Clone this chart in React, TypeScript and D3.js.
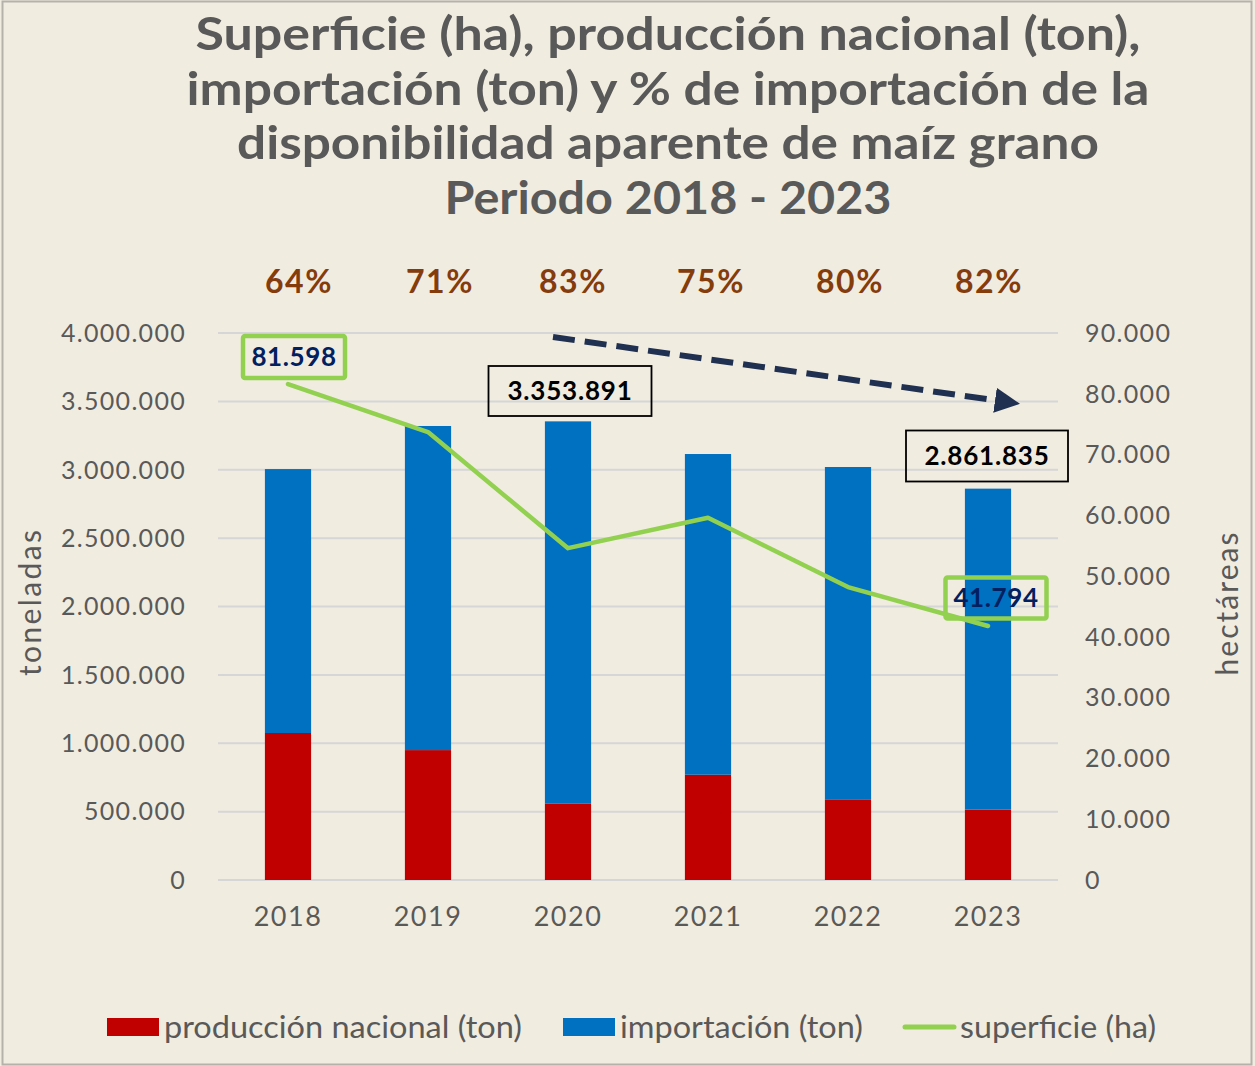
import React, { useEffect, useRef } from "react";
import * as d3 from "d3";

const years = ["2018", "2019", "2020", "2021", "2022", "2023"];
const produccion = [1075000, 950000, 560000, 770000, 590000, 515000];
const importacion = [1930000, 2370000, 2793891, 2345000, 2430000, 2346835];
const superficie = [81598, 73700, 54600, 59600, 48200, 41794];
const pctImport = ["64%", "71%", "83%", "75%", "80%", "82%"];
const leftTicks = [0, 500000, 1000000, 1500000, 2000000, 2500000, 3000000, 3500000, 4000000];
const rightTicks = [0, 10000, 20000, 30000, 40000, 50000, 60000, 70000, 80000, 90000];
const titleLines = [
  "Superficie (ha), producción nacional (ton),",
  "importación (ton) y % de importación de la",
  "disponibilidad aparente de maíz grano",
  "Periodo 2018 - 2023",
];

const W = 1255;
const H = 1066;
const FONT = "Lato, 'Open Sans', sans-serif";
const GRAY = "#595959";

const fmt = (v: number) => d3.format(",")(v).replace(/,/g, ".");

export default function App() {
  const ref = useRef<SVGSVGElement | null>(null);

  useEffect(() => {
    const svg = d3.select(ref.current);
    svg.selectAll("*").remove();

    const margin = { top: 333, right: 197, bottom: 186, left: 218 };
    const width = W - margin.left - margin.right;
    const height = H - margin.top - margin.bottom;

    // background paper + frame
    svg.append("rect").attr("width", W).attr("height", H).attr("fill", "#f1ece0");
    svg
      .append("rect")
      .attr("x", 2.5)
      .attr("y", 1.5)
      .attr("width", W - 6)
      .attr("height", H - 3)
      .attr("fill", "none")
      .attr("stroke", "#b5b2ac")
      .attr("stroke-width", 2);

    // title (widths fitted to the original's wider face)
    const titleWidths = [945, 963, 862, 447];
    svg
      .append("g")
      .selectAll("text")
      .data(titleLines)
      .enter()
      .append("text")
      .attr("x", 668)
      .attr("y", (d, i) => 50 + i * 54.5)
      .attr("text-anchor", "middle")
      .attr("textLength", (d, i) => titleWidths[i])
      .attr("lengthAdjust", "spacingAndGlyphs")
      .attr("fill", GRAY)
      .style("font-family", FONT)
      .style("font-weight", "bold")
      .style("font-size", "45px")
      .text((d) => d);

    const x = d3.scaleBand().domain(years).range([0, width]).paddingInner(0.67).paddingOuter(0.335);
    const y = d3.scaleLinear().domain([0, 4000000]).range([height, 0]);
    const y2 = d3.scaleLinear().domain([0, 90000]).range([height, 0]);

    const g = svg.append("g").attr("transform", `translate(${margin.left},${margin.top})`);

    // gridlines
    g.selectAll(".grid")
      .data(leftTicks)
      .enter()
      .append("line")
      .attr("x1", 0)
      .attr("x2", width)
      .attr("y1", (d) => y(d))
      .attr("y2", (d) => y(d))
      .attr("stroke", "#d6d6d8")
      .attr("stroke-width", 2);

    // left axis labels
    g.selectAll(".ly")
      .data(leftTicks)
      .enter()
      .append("text")
      .attr("x", -32)
      .attr("y", (d) => y(d))
      .attr("dy", "0.35em")
      .attr("text-anchor", "end")
      .attr("fill", GRAY)
      .style("font-family", FONT)
      .style("font-size", "25px")
      .style("letter-spacing", "1.3px")
      .text((d) => fmt(d));

    // right axis labels
    g.selectAll(".ry")
      .data(rightTicks)
      .enter()
      .append("text")
      .attr("x", width + 27)
      .attr("y", (d) => y2(d))
      .attr("dy", "0.35em")
      .attr("text-anchor", "start")
      .attr("fill", GRAY)
      .style("font-family", FONT)
      .style("font-size", "25px")
      .style("letter-spacing", "1.3px")
      .text((d) => fmt(d));

    // x labels
    g.selectAll(".xl")
      .data(years)
      .enter()
      .append("text")
      .attr("x", (d) => x(d)! + x.bandwidth() / 2)
      .attr("y", height + 46)
      .attr("text-anchor", "middle")
      .attr("fill", GRAY)
      .style("font-family", FONT)
      .style("font-size", "27px")
      .style("letter-spacing", "1.5px")
      .text((d) => d);

    // axis titles
    svg
      .append("text")
      .attr("transform", `translate(41,${603}) rotate(-90)`)
      .attr("text-anchor", "middle")
      .attr("textLength", 146)
      .attr("fill", GRAY)
      .style("font-family", FONT)
      .style("font-size", "30px")
      .text("toneladas");
    svg
      .append("text")
      .attr("transform", `translate(1238,${604}) rotate(-90)`)
      .attr("text-anchor", "middle")
      .attr("textLength", 143)
      .attr("fill", GRAY)
      .style("font-family", FONT)
      .style("font-size", "30px")
      .text("hectáreas");

    // stacked bars
    const rows = years.map((yr, i) => ({ yr, prod: produccion[i], imp: importacion[i] }));
    g.selectAll(".bp")
      .data(rows)
      .enter()
      .append("rect")
      .attr("x", (d) => x(d.yr)!)
      .attr("width", x.bandwidth())
      .attr("y", (d) => y(d.prod))
      .attr("height", (d) => height - y(d.prod))
      .attr("fill", "#c00000");
    g.selectAll(".bi")
      .data(rows)
      .enter()
      .append("rect")
      .attr("x", (d) => x(d.yr)!)
      .attr("width", x.bandwidth())
      .attr("y", (d) => y(d.prod + d.imp))
      .attr("height", (d) => y(d.prod) - y(d.prod + d.imp))
      .attr("fill", "#0070c0");

    // superficie line
    const line = d3
      .line<number>()
      .x((d, i) => x(years[i])! + x.bandwidth() / 2)
      .y((d) => y2(d));
    g.append("path")
      .datum(superficie)
      .attr("d", line)
      .attr("fill", "none")
      .attr("stroke", "#92d050")
      .attr("stroke-width", 4.5)
      .attr("stroke-linecap", "round")
      .attr("stroke-linejoin", "round");

    // percentages (text boxes sit a little right of the bar centres)
    const pctShift = [11, 12, 5, 3, 2, 1];
    g.selectAll(".pct")
      .data(pctImport)
      .enter()
      .append("text")
      .attr("x", (d, i) => x(years[i])! + x.bandwidth() / 2 + pctShift[i])
      .attr("y", -40)
      .attr("text-anchor", "middle")
      .attr("fill", "#843c0c")
      .style("font-family", FONT)
      .style("font-weight", "bold")
      .style("font-size", "32px")
      .style("letter-spacing", "1.5px")
      .text((d) => d);

    // total labels (black boxes)
    const totals = [
      { i: 2, cx: 570, cy: 391, w: 163, h: 50 },
      { i: 5, cx: 987, cy: 456, w: 162, h: 51 },
    ];
    totals.forEach((t) => {
      svg
        .append("rect")
        .attr("x", t.cx - t.w / 2)
        .attr("y", t.cy - t.h / 2)
        .attr("width", t.w)
        .attr("height", t.h)
        .attr("fill", "none")
        .attr("stroke", "#000")
        .attr("stroke-width", 1.8);
      svg
        .append("text")
        .attr("x", t.cx)
        .attr("y", t.cy)
        .attr("dy", "0.36em")
        .attr("text-anchor", "middle")
        .attr("fill", "#000")
        .style("font-family", FONT)
        .style("font-weight", "bold")
        .style("font-size", "26px")
        .style("letter-spacing", "0.8px")
        .text(fmt(produccion[t.i] + importacion[t.i]));
    });

    // superficie labels (green boxes)
    const supLabels = [
      { i: 0, cx: 294, cy: 357, w: 102, h: 42 },
      { i: 5, cx: 996, cy: 598, w: 101, h: 41 },
    ];
    supLabels.forEach((t) => {
      svg
        .append("rect")
        .attr("x", t.cx - t.w / 2)
        .attr("y", t.cy - t.h / 2)
        .attr("width", t.w)
        .attr("height", t.h)
        .attr("fill", "none")
        .attr("stroke", "#92d050")
        .attr("stroke-width", 4.5)
        .attr("rx", 2);
      svg
        .append("text")
        .attr("x", t.cx)
        .attr("y", t.cy)
        .attr("dy", "0.36em")
        .attr("text-anchor", "middle")
        .attr("fill", "#002060")
        .style("font-family", FONT)
        .style("font-weight", "bold")
        .style("font-size", "26px")
        .style("letter-spacing", "0.6px")
        .text(fmt(superficie[t.i]));
    });

    // dashed trend arrow
    const defs = svg.append("defs");
    defs
      .append("marker")
      .attr("id", "arr")
      .attr("viewBox", "0 0 10 10")
      .attr("refX", 2)
      .attr("refY", 5)
      .attr("markerWidth", 4.2)
      .attr("markerHeight", 4.2)
      .attr("orient", "auto")
      .attr("markerUnits", "strokeWidth")
      .append("path")
      .attr("d", "M0,0 L10,5 L0,10 Z")
      .attr("fill", "#1f3050");
    svg
      .append("line")
      .attr("x1", 553)
      .attr("y1", 337)
      .attr("x2", 1000)
      .attr("y2", 401)
      .attr("stroke", "#1f3050")
      .attr("stroke-width", 6)
      .attr("stroke-dasharray", "22,10")
      .attr("marker-end", "url(#arr)");

    // legend
    const lg = svg.append("g").attr("transform", "translate(0,1027)");
    const legendItems = [
      { x: 107, label: "producción nacional (ton)", color: "#c00000", kind: "rect", w: 358 },
      { x: 563, label: "importación (ton)", color: "#0070c0", kind: "rect", w: 243 },
      { x: 903, label: "superficie (ha)", color: "#92d050", kind: "line", w: 196 },
    ];
    legendItems.forEach((it) => {
      if (it.kind === "rect") {
        lg.append("rect").attr("x", it.x).attr("y", -9).attr("width", 52).attr("height", 18).attr("fill", it.color);
      } else {
        lg.append("line")
          .attr("x1", it.x + 2)
          .attr("x2", it.x + 51)
          .attr("y1", 0)
          .attr("y2", 0)
          .attr("stroke", it.color)
          .attr("stroke-width", 5)
          .attr("stroke-linecap", "round");
      }
      lg.append("text")
        .attr("x", it.x + 57)
        .attr("y", 0)
        .attr("dy", "0.35em")
        .attr("textLength", it.w)
        .attr("lengthAdjust", "spacingAndGlyphs")
        .attr("fill", GRAY)
        .style("font-family", FONT)
        .style("font-size", "30px")
        .text(it.label);
    });
  }, []);

  return (
    <svg
      ref={ref}
      width={W}
      height={H}
      style={{ position: "absolute", top: 0, left: 0, display: "block" }}
    />
  );
}
